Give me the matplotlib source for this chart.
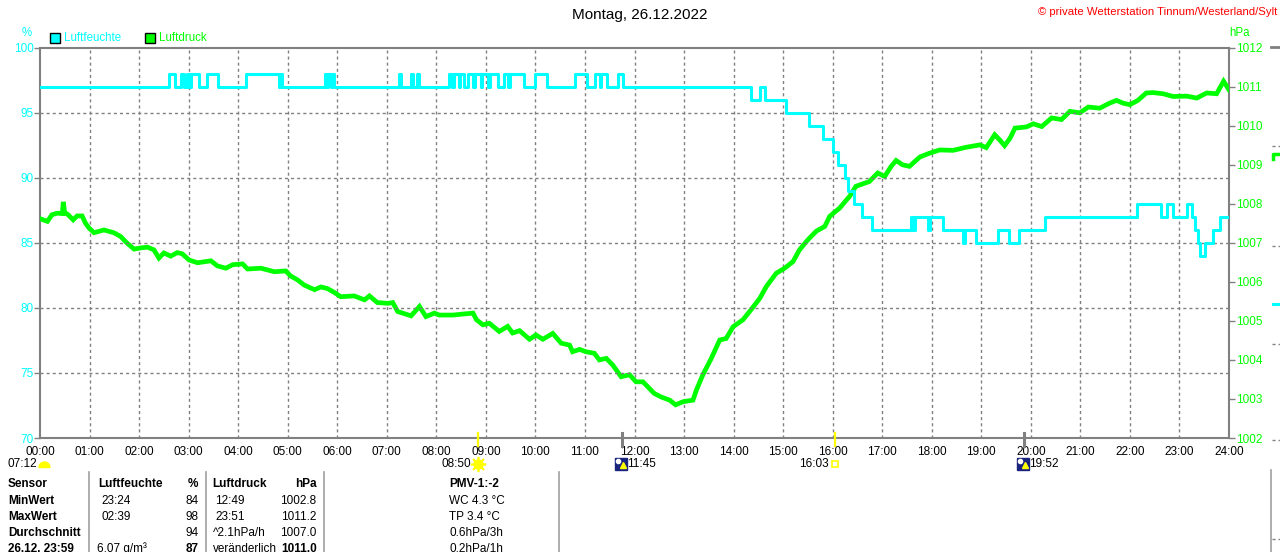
import matplotlib
matplotlib.use("Agg")
import matplotlib.pyplot as plt
from matplotlib.patches import Rectangle, Wedge
from matplotlib.lines import Line2D
from matplotlib.transforms import (blended_transform_factory, offset_copy,
                                   IdentityTransform)

W, H = 1280, 552
CYAN = "#00ffff"
GREEN = "#00ff00"
GREY = "#808080"
NAVY = "#1a237e"
YELLOW = "#ffff00"

plt.rcParams["font.family"] = ["Liberation Sans", "DejaVu Sans"]

# humidity (%), step changes: hour of change -> value
hum_t = [0.00, 2.61, 2.72, 2.85, 2.91, 2.97, 3.01, 3.05, 3.21, 3.37, 3.60,
         4.15, 4.83, 4.86, 4.89, 5.75, 5.80, 5.82, 5.87, 5.89, 5.94,
         7.25, 7.29, 7.49, 7.53, 7.60, 7.65, 8.25, 8.32, 8.35, 8.45, 8.48,
         8.56, 8.64, 8.75, 8.78, 8.90, 8.93, 9.05, 9.08, 9.24, 9.36, 9.45,
         9.48, 9.76, 10.00, 10.24, 10.80, 11.04, 11.20, 11.30, 11.33, 11.44,
         11.66, 11.77, 14.36, 14.53, 14.63, 15.06, 15.53, 15.80, 16.00,
         16.10, 16.24, 16.30, 16.44, 16.60, 16.80, 17.59, 17.62, 17.66,
         17.93, 17.96, 18.22, 18.63, 18.67, 18.90, 19.33, 19.56, 19.76,
         20.28, 22.14, 22.62, 22.74, 22.87, 23.15, 23.25, 23.31, 23.38,
         23.41, 23.51, 23.68, 23.82, 24.00]
hum_v = [97, 98, 97, 98, 97, 98, 97, 98, 97, 98, 97,
         98, 97, 98, 97, 98, 97, 98, 97, 98, 97,
         98, 97, 98, 97, 98, 97, 98, 97, 98, 97, 98,
         97, 98, 97, 98, 97, 98, 97, 98, 97, 98, 97,
         98, 97, 98, 97, 98, 97, 98, 97, 98, 97,
         98, 97, 96, 97, 96, 95, 94, 93, 92,
         91, 90, 89, 88, 87, 86, 87, 86, 87,
         86, 87, 86, 85, 86, 85, 86, 85, 86,
         87, 88, 87, 88, 87, 88, 87, 86, 85,
         84, 85, 86, 87, 87]

# air pressure (hPa)
press_t = [0.00, 0.15, 0.24, 0.35, 0.45, 0.47, 0.50, 0.55, 0.67, 0.75, 0.85,
           0.92, 0.99, 1.09, 1.29, 1.49, 1.63, 1.76, 1.90, 2.03, 2.17, 2.30,
           2.40, 2.50, 2.64, 2.77, 2.87, 3.01, 3.18, 3.45, 3.58, 3.75, 3.89,
           4.09, 4.19, 4.46, 4.73, 4.96, 5.06, 5.20, 5.33, 5.54, 5.67, 5.80,
           5.94, 6.07, 6.34, 6.55, 6.65, 6.81, 7.02, 7.12, 7.22, 7.49, 7.66,
           7.79, 7.96, 8.06, 8.33, 8.74, 8.81, 8.94, 9.07, 9.27, 9.44, 9.54,
           9.68, 9.88, 10.01, 10.15, 10.35, 10.52, 10.69, 10.75, 10.89, 11.02,
           11.19, 11.29, 11.43, 11.56, 11.73, 11.90, 12.03, 12.17, 12.30,
           12.40, 12.54, 12.71, 12.83, 12.98, 13.18, 13.25, 13.38, 13.55,
           13.72, 13.85, 13.99, 14.19, 14.36, 14.53, 14.66, 14.86, 15.03,
           15.20, 15.33, 15.50, 15.67, 15.84, 15.94, 16.14, 16.34, 16.47,
           16.74, 16.91, 17.05, 17.18, 17.28, 17.41, 17.55, 17.76, 17.96,
           18.16, 18.43, 18.70, 18.97, 19.10, 19.27, 19.37, 19.47, 19.58,
           19.68, 19.91, 20.05, 20.22, 20.42, 20.62, 20.79, 20.99, 21.16,
           21.39, 21.59, 21.73, 21.86, 22.00, 22.16, 22.33, 22.47, 22.67,
           22.87, 23.14, 23.35, 23.55, 23.75, 23.89, 24.00]
press_v = [1007.62, 1007.55, 1007.72, 1007.76, 1007.75, 1008.05, 1007.76,
           1007.74, 1007.59, 1007.69, 1007.69, 1007.50, 1007.38, 1007.26,
           1007.33, 1007.26, 1007.16, 1006.99, 1006.84, 1006.87, 1006.89,
           1006.82, 1006.61, 1006.74, 1006.66, 1006.75, 1006.72, 1006.56,
           1006.49, 1006.54, 1006.41, 1006.35, 1006.44, 1006.46, 1006.33,
           1006.35, 1006.26, 1006.28, 1006.15, 1006.05, 1005.92, 1005.80,
           1005.87, 1005.83, 1005.73, 1005.62, 1005.64, 1005.54, 1005.64,
           1005.47, 1005.45, 1005.47, 1005.24, 1005.13, 1005.37, 1005.11,
           1005.20, 1005.15, 1005.15, 1005.20, 1005.03, 1004.90, 1004.94,
           1004.73, 1004.86, 1004.69, 1004.75, 1004.53, 1004.64, 1004.53,
           1004.68, 1004.43, 1004.38, 1004.21, 1004.27, 1004.21, 1004.17,
           1004.00, 1004.04, 1003.87, 1003.57, 1003.62, 1003.44, 1003.44,
           1003.27, 1003.14, 1003.05, 1002.97, 1002.85, 1002.93, 1002.97,
           1003.23, 1003.62, 1004.04, 1004.51, 1004.55, 1004.85, 1005.03,
           1005.30, 1005.58, 1005.88, 1006.22, 1006.35, 1006.52, 1006.82,
           1007.08, 1007.30, 1007.42, 1007.68, 1007.89, 1008.19, 1008.45,
           1008.57, 1008.79, 1008.70, 1008.96, 1009.11, 1009.00, 1008.96,
           1009.20, 1009.30, 1009.38, 1009.37, 1009.45, 1009.51, 1009.44,
           1009.77, 1009.64, 1009.49, 1009.68, 1009.94, 1009.97, 1010.05,
           1009.98, 1010.20, 1010.16, 1010.37, 1010.33, 1010.48, 1010.45,
           1010.58, 1010.65, 1010.58, 1010.54, 1010.65, 1010.84, 1010.85,
           1010.82, 1010.75, 1010.76, 1010.71, 1010.84, 1010.82, 1011.14,
           1010.92]

hour_ticks = list(range(25))
hour_labels = [f"{h:02d}:00" for h in hour_ticks]
hum_ticks = [70, 75, 80, 85, 90, 95, 100]
press_ticks = list(range(1002, 1013))

# sun and moon events under the time axis
ev_t = [8 + 50 / 60, 11 + 45 / 60, 16 + 3 / 60, 19 + 52 / 60]
ev_label = ["08:50", "11:45", "16:03", "19:52"]
ev_kind = ["sunrise", "moon", "sunset", "moon"]

# summary table
table_rows = [
    ["Sensor", "Luftfeuchte", "%", "Luftdruck", "hPa", "PMV-1:-2"],
    ["MinWert", "23:24", "84", "12:49", "1002.8", "WC 4.3 °C"],
    ["MaxWert", "02:39", "98", "23:51", "1011.2", "TP 3.4 °C"],
    ["Durchschnitt", "", "94", "^2.1hPa/h", "1007.0", "0.6hPa/3h"],
    ["26.12. 23:59", "6.07 g/m³", "87", "veränderlich", "1011.0", "0.2hPa/1h"],
]


def fx(px):
    return px / W


def fy(py):
    return 1 - py / H


fig = plt.figure(figsize=(W / 100, H / 100), dpi=100)
fig.patch.set_facecolor("white")

rect = [fx(40), fy(438), fx(1229) - fx(40), fy(47.7) - fy(438)]
axp = fig.add_axes(rect, zorder=1)
axh = fig.add_axes(rect, zorder=2, sharex=axp)
axh.patch.set_visible(False)

# pressure axis (right)
axp.plot(press_t, press_v, color=GREEN, lw=3.4, solid_joinstyle="miter",
         zorder=3)
axp.set_ylim(1002, 1012)
axp.set_xlim(0, 24)
axp.yaxis.tick_right()
axp.set_yticks(press_ticks)
axp.tick_params(axis="y", colors=GREY, labelcolor=GREEN, length=4, width=1,
                pad=1, labelsize=8.5)
axp.set_xticks(hour_ticks)
axp.set_xticklabels(hour_labels)
axp.tick_params(axis="x", length=0, pad=6, labelsize=8.5, labelcolor="black")
for sp in axp.spines.values():
    sp.set_color(GREY)
    sp.set_linewidth(1.5)
axp.grid(False)
for h in hour_ticks[1:-1]:
    axp.axvline(h, color=GREY, lw=1, ls=(0, (2.2, 2.2)), zorder=1)

# humidity axis (left)
axh.plot(hum_t, hum_v, color=CYAN, lw=2.2, drawstyle="steps-post", zorder=4)
axh.set_ylim(70, 100)
axh.set_yticks(hum_ticks)
axh.tick_params(axis="y", colors=GREY, labelcolor=CYAN, length=4, width=1,
                pad=0.5, labelsize=8.5)
axh.tick_params(axis="x", bottom=False, labelbottom=False)
for v in hum_ticks[1:-1]:
    axh.axhline(v, color=GREY, lw=1, ls=(0, (2.2, 2.2)), zorder=1)
for sp in axh.spines.values():
    sp.set_visible(False)

# header texts
fig.text(0.5, fy(15), "Montag, 26.12.2022", ha="center", va="center",
         fontsize=11)
fig.text(fx(1277), fy(12), "© private Wetterstation Tinnum/Westerland/Sylt",
         ha="right", va="center", fontsize=8.2, color="red")
fig.text(fx(27), fy(32.5), "%", ha="center", va="center", fontsize=8.3,
         color=CYAN)
fig.text(fx(1240), fy(32.5), "hPa", ha="center", va="center", fontsize=8.3,
         color=GREEN)
for x0, label, col in [(50, "Luftfeuchte", CYAN), (145, "Luftdruck", GREEN)]:
    fig.patches.append(Rectangle((fx(x0), fy(42.5)), fx(10), fy(0) - fy(10),
                                 transform=fig.transFigure, facecolor=col,
                                 edgecolor="black", lw=1))
    fig.text(fx(x0 + 14), fy(38), label, ha="left", va="center",
             fontsize=8.3, color=col)

# sun / moon markers
ev_y = fy(464)
blend = blended_transform_factory(axp.transData, fig.transFigure)
for t, lab, kind in zip(ev_t, ev_label, ev_kind):
    mark_col = YELLOW if kind in ("sunrise", "sunset") else GREY
    mark_lw = 1.6 if mark_col == YELLOW else 2.2
    fig.add_artist(Line2D([t, t], [fy(433), fy(446)], transform=blend,
                          color=mark_col, lw=mark_lw))
    if kind == "sunrise":
        fig.add_artist(Line2D([t], [ev_y], transform=blend, marker=(8, 2, 0),
                              ms=11, color=YELLOW, mew=1.2))
        fig.add_artist(Line2D([t], [ev_y], transform=blend, marker="o",
                              ms=6.5, color=YELLOW))
        fig.text(t, ev_y, lab, transform=offset_copy(
            blend, fig=fig, x=-6, y=0, units="dots"),
            ha="right", va="center", fontsize=8.5)
    elif kind == "sunset":
        fig.add_artist(Line2D([t], [ev_y], transform=blend, marker="s",
                              ms=5, mfc="none", mec=YELLOW, mew=1.2))
        fig.text(t, ev_y, lab, transform=offset_copy(
            blend, fig=fig, x=-6, y=0, units="dots"),
            ha="right", va="center", fontsize=8.5)
    else:
        tr = offset_copy(blend, fig=fig, x=-1, y=0, units="dots")
        fig.add_artist(Line2D([t], [ev_y], transform=tr, marker="s",
                              ms=8, color=NAVY))
        fig.add_artist(Line2D([t], [fy(461)], transform=offset_copy(
            blend, fig=fig, x=-4, y=0, units="dots"), marker="o", ms=3,
            color="white"))
        fig.add_artist(Line2D([t], [fy(465)], transform=offset_copy(
            blend, fig=fig, x=1, y=0, units="dots"), marker="^", ms=4,
            color=YELLOW))
        fig.text(t, ev_y, lab, transform=offset_copy(
            blend, fig=fig, x=5, y=0, units="dots"),
            ha="left", va="center", fontsize=8.5)

# dawn label at the left edge
fig.text(fx(37.5), ev_y, "07:12", ha="right", va="center", fontsize=8.5)
fig.patches.append(Wedge((44.5, H - 467.5), 5.5, 0, 180,
                         transform=IdentityTransform(), color=YELLOW))

# table
for xs in [88.5, 205.5, 323.5, 559]:
    fig.add_artist(Line2D([fx(xs), fx(xs)], [fy(471.5), fy(552)],
                          color="#a0a0a0", lw=1.2))
row_y = [484, 500.5, 516.5, 532.5, 548.5]
col_x = [(8, "left"), (98, "left"), (198.5, "right"), (212.5, "left"),
         (316.5, "right"), (449, "left")]
bold_cells = {(4, 0), (4, 2), (4, 4)}
for r, row in enumerate(table_rows):
    for c, cell in enumerate(row):
        x, ha = col_x[c]
        if r > 0 and c in (1, 3) and not cell.startswith(("^", "v", "6")):
            x += 3
        if c == 1 and cell.startswith("6"):
            x -= 1
        bold = r == 0 or c == 0 or (r, c) in bold_cells
        fig.text(fx(x), fy(row_y[r]), cell, ha=ha, va="center",
                 fontsize=8.5, fontweight="bold" if bold else "normal")

# fragments of the neighbouring chart at the right image edge
fig.add_artist(Line2D([fx(1271), fx(1280)], [fy(47), fy(47)], color=GREY,
                      lw=2))
for yy in [145.5, 245.5, 343.5, 440, 539]:
    fig.add_artist(Line2D([fx(1272), fx(1280)], [fy(yy), fy(yy)],
                          color=GREY, lw=1, ls=(0, (2.2, 2.2))))
fig.add_artist(Line2D([fx(1273), fx(1273), fx(1280)],
                      [fy(159), fy(154), fy(154)], color=GREEN, lw=2.5))
fig.add_artist(Line2D([fx(1273), fx(1280)], [fy(304), fy(304)], color=CYAN,
                      lw=2.2))
fig.add_artist(Line2D([fx(1270.5), fx(1270.5)], [fy(470), fy(552)],
                      color="#a0a0a0", lw=1.2))

fig.savefig("out.png", dpi=100, facecolor="white")
